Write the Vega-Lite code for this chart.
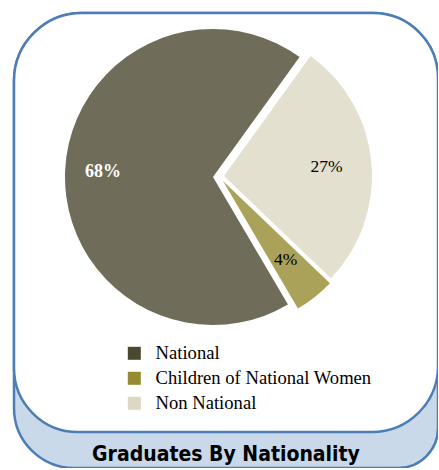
{
  "$schema": "https://vega.github.io/schema/vega-lite/v6.json",
  "width": 424,
  "height": 455,
  "autosize": {"type": "none"},
  "padding": {"left": 14, "top": 13, "right": 0, "bottom": 0},
  "background": "white",
  "config": {"view": {"stroke": null}},
  "title": {
    "text": "Graduates By Nationality",
    "orient": "bottom",
    "anchor": "middle",
    "frame": "group",
    "font": "'Liberation Sans Narrow', 'DejaVu Sans Condensed', sans-serif",
    "fontWeight": "bold",
    "fontSize": 21,
    "color": "#000000",
    "baseline": "alphabetic",
    "offset": -8
  },
  "layer": [
    {
      "data": {"values": [{}]},
      "mark": {"type": "rect", "fill": "#c9d9e9", "stroke": "#4d7db5", "strokeWidth": 2.5,
        "cornerRadiusTopLeft": 68, "cornerRadiusTopRight": 65, "cornerRadiusBottomLeft": 60, "cornerRadiusBottomRight": 40},
      "encoding": {
        "x": {"datum": 0, "type": "quantitative", "scale": {"domain": [0, 1]}, "axis": null},
        "x2": {"datum": 1},
        "y": {"datum": 0, "type": "quantitative", "scale": {"domain": [0, 1], "reverse": true}, "axis": null},
        "y2": {"datum": 1}
      }
    },
    {
      "data": {"values": [{}]},
      "mark": {"type": "rect", "fill": "#ffffff", "stroke": "#4d7db5", "strokeWidth": 2.5,
        "cornerRadiusTopLeft": 68, "cornerRadiusTopRight": 65, "cornerRadiusBottomLeft": 64, "cornerRadiusBottomRight": 66},
      "encoding": {
        "x": {"datum": 0, "type": "quantitative"},
        "x2": {"datum": 1},
        "y": {"datum": 0, "type": "quantitative"},
        "y2": {"datum": 0.921}
      }
    },
    {
      "data": {"values": [
        {"cat": "National", "share": 0.684},
        {"cat": "Children of National Women", "share": 0.044},
        {"cat": "Non National", "share": 0.272}
      ]},
      "transform": [{"window": [{"op": "row_number", "as": "idx"}]}],
      "encoding": {
        "x": {"datum": 0.4693, "type": "quantitative"},
        "y": {"datum": 0.3604, "type": "quantitative"},
        "theta": {"field": "share", "type": "quantitative", "stack": true, "scale": {"range": [6.908, 0.625]}},
        "order": {"field": "idx", "type": "quantitative"}
      },
      "layer": [
        {
          "mark": {"type": "arc", "radius": 148},
          "encoding": {
            "color": {"field": "cat", "type": "nominal",
              "scale": {"domain": ["National", "Children of National Women", "Non National"], "range": ["#4b4831", "#958b30", "#dcd8c4"]},
              "legend": {"orient": "none", "legendX": 111, "legendY": 331, "title": null, "symbolType": "square", "symbolSize": 169,
                "symbolOpacity": 1, "symbolStrokeWidth": 0, "labelFont": "Liberation Serif", "labelFontSize": 18.6, "labelColor": "#000000",
                "labelOffset": 12, "labelLimit": 400, "rowPadding": 6, "padding": 0}},
            "fillOpacity": {"condition": {"test": "datum.cat === 'National'", "value": 0.8}, "value": 0}
          }
        },
        {
          "mark": {"type": "arc", "radius": 148, "xOffset": 11, "yOffset": -1},
          "encoding": {
            "color": {"field": "cat", "type": "nominal"},
            "fillOpacity": {"condition": {"test": "datum.cat === 'Non National'", "value": 0.8}, "value": 0}
          }
        },
        {
          "mark": {"type": "arc", "radius": 148, "xOffset": 10, "yOffset": 4},
          "encoding": {
            "color": {"field": "cat", "type": "nominal"},
            "fillOpacity": {"condition": {"test": "datum.cat === 'Children of National Women'", "value": 0.8}, "value": 0}
          }
        },
        {
          "mark": {"type": "text", "radius": 110, "font": "Liberation Serif", "fontSize": 18, "fontWeight": "bold", "fill": "#ffffff", "align": "center", "baseline": "middle"},
          "encoding": {
            "text": {"field": "share", "type": "quantitative", "format": ".0%"},
            "opacity": {"condition": {"test": "datum.cat === 'National'", "value": 1}, "value": 0}
          }
        },
        {
          "mark": {"type": "text", "radius": 103, "xOffset": 11, "yOffset": -1, "font": "Liberation Serif", "fontSize": 17.5, "fill": "#000000", "align": "center", "baseline": "middle"},
          "encoding": {
            "text": {"field": "share", "type": "quantitative", "format": ".0%"},
            "opacity": {"condition": {"test": "datum.cat === 'Non National'", "value": 1}, "value": 0}
          }
        },
        {
          "mark": {"type": "text", "radius": 101, "xOffset": 10, "yOffset": 4, "font": "Liberation Serif", "fontSize": 17.5, "fill": "#000000", "align": "center", "baseline": "middle"},
          "encoding": {
            "text": {"field": "share", "type": "quantitative", "format": ".0%"},
            "opacity": {"condition": {"test": "datum.cat === 'Children of National Women'", "value": 1}, "value": 0}
          }
        }
      ]
    }
  ]
}
